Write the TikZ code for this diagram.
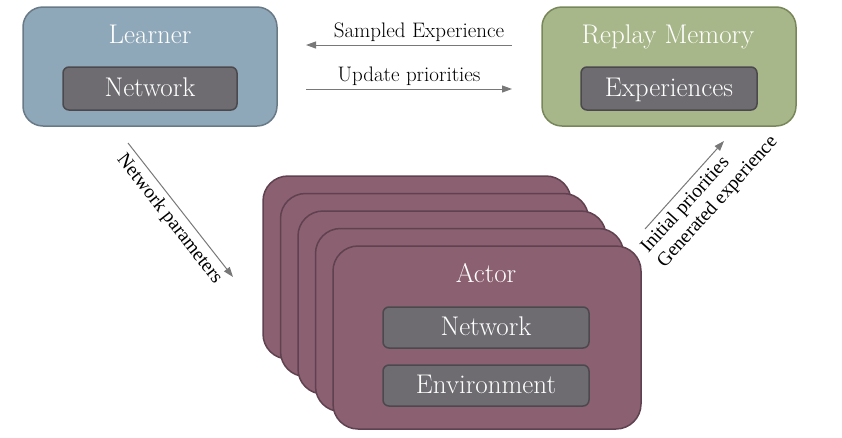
\documentclass[tikz,border=0pt]{standalone}
\usepackage{xcolor}
\usepackage{fontspec}
\newfontfamily\labelfont{Liberation Serif}
\usetikzlibrary{arrows.meta,positioning}

\definecolor{learnerfill}{HTML}{8FA8B9}
\definecolor{learnerline}{HTML}{697A87}
\definecolor{replayfill}{HTML}{A7B789}
\definecolor{replayline}{HTML}{78875A}
\definecolor{actorfill}{HTML}{8B6070}
\definecolor{actorline}{HTML}{5F4150}
\definecolor{innerfill}{HTML}{6E6C71}
\definecolor{innerline}{HTML}{4B494E}
\definecolor{flowgray}{HTML}{787878}

\begin{document}
\begin{tikzpicture}[x=1pt,y=1pt,>={Triangle[length=10pt,width=7pt]},
  box/.style={rectangle,line width=1.5pt,inner sep=0pt},
  part/.style={rectangle,draw=innerline,fill=innerfill,line width=1.5pt,rounded corners=6pt,
    text=white,text height=20pt,text depth=4pt,font=\fontsize{27}{30}\selectfont},
  title/.style={anchor=base,text=white,inner sep=0pt,font=\fontsize{27}{30}\selectfont},
  flow/.style={->,color=flowgray,line width=1pt},
  lbl/.style={text=black,font=\fontsize{21}{24}\selectfont},
  slbl/.style={text=black,sloped,font=\labelfont\fontsize{19.5}{22}\selectfont}]

    \useasboundingbox (0,0) rectangle (842,-437);

    % The learner
	\node [box,draw=learnerline,fill=learnerfill,rounded corners=20pt,minimum width=254pt,minimum height=119pt] at (150,-66.5) (learner) {};
	\node [title] at (150,-43) (learnerT) {Learner};
	\node [part,minimum width=174pt,minimum height=43pt] at (150,-88.5) (learnerN) {Network};

    % The replay memory
	\node [box,draw=replayline,fill=replayfill,rounded corners=20pt,minimum width=254pt,minimum height=119pt] at (669,-66.5) (replay) {};
	\node [title] at (668,-43) (replayT) {Replay Memory};
	\node [part,minimum width=176pt,minimum height=43pt] at (669,-88.5) (replayE) {Experiences};

    % The actors
	\node [box,draw=actorline,fill=actorfill,rounded corners=25pt,minimum width=308pt,minimum height=183pt] at (417,-267.5) (actor1) {};
	\node [box,draw=actorline,fill=actorfill,rounded corners=25pt,minimum width=308pt,minimum height=183pt] at (434.5,-285) (actor2) {};
	\node [box,draw=actorline,fill=actorfill,rounded corners=25pt,minimum width=308pt,minimum height=183pt] at (452,-302.5) (actor3) {};
	\node [box,draw=actorline,fill=actorfill,rounded corners=25pt,minimum width=308pt,minimum height=183pt] at (469.5,-320) (actor4) {};
	\node [box,draw=actorline,fill=actorfill,rounded corners=25pt,minimum width=308pt,minimum height=183pt] at (487,-337.5) (actor5) {};
	\node [title] at (486,-282) (actorT) {Actor};
	\node [part,minimum width=206pt,minimum height=41pt] at (486,-327.5) (actorN) {Network};
	\node [part,minimum width=206pt,minimum height=41pt] at (486,-385.5) (actorE) {Environment};

    % Arrow ends
	\coordinate (sampleS) at (512,-45);
	\coordinate (sampleE) at (306,-45);
	\coordinate (updateS) at (306,-89);
	\coordinate (updateE) at (512,-89);
	\coordinate (paramS) at (128,-143);
	\coordinate (paramE) at (233,-277);
	\coordinate (prioS) at (645,-229);
	\coordinate (prioE) at (724,-141);

	% Arrows
	\draw[flow] (sampleS) -- node[above,lbl,inner sep=3pt,xshift=10pt] {Sampled Experience} (sampleE);
	\draw[flow] (updateS) -- node[above,lbl,inner sep=3pt] {Update priorities} (updateE);
	\draw[flow] (paramS) -- node[below,slbl,inner sep=5pt] {Network parameters} (paramE);
	\draw[flow] (prioS) -- node[below,slbl,pos=0.58,inner sep=5pt,align=left] {Initial priorities\\Generated experience} (prioE);

\end{tikzpicture}
\end{document}
